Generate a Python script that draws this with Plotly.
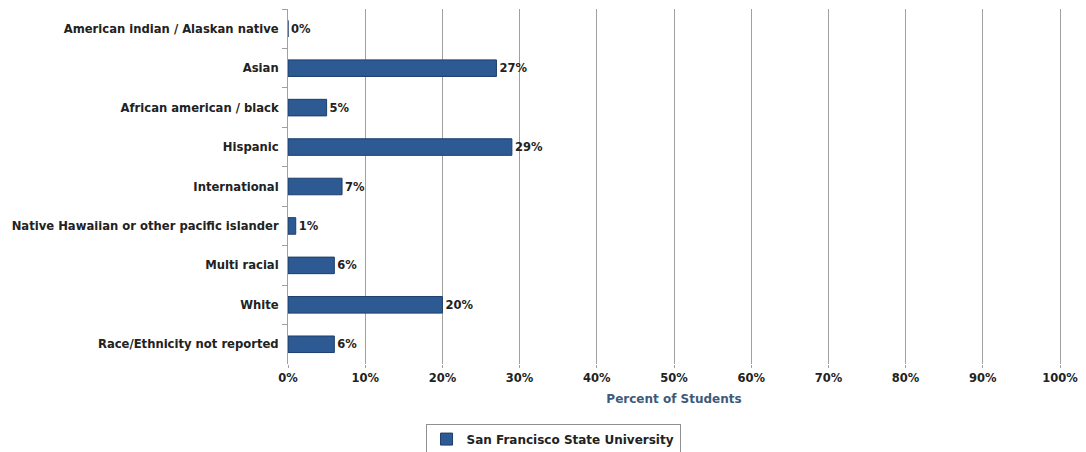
import plotly.graph_objects as go

categories = [
    "American indian / Alaskan native",
    "Asian",
    "African american / black",
    "Hispanic",
    "International",
    "Native Hawaiian or other pacific islander",
    "Multi racial",
    "White",
    "Race/Ethnicity not reported",
]
values = [0, 27, 5, 29, 7, 1, 6, 20, 6]
series_name = "San Francisco State University"
tick_vals = [0, 10, 20, 30, 40, 50, 60, 70, 80, 90, 100]
tick_text = ["0%", "10%", "20%", "30%", "40%", "50%", "60%", "70%", "80%", "90%", "100%"]

FONT = "DejaVu Sans"

fig = go.Figure()
fig.add_trace(go.Bar(
    y=categories,
    x=values,
    orientation="h",
    name=series_name,
    marker=dict(color="#2d5a93", line=dict(color="#1c3d6b", width=1)),
    width=0.42,
    text=[f"{v}%" for v in values],
    textposition="outside",
    cliponaxis=False,
    textfont=dict(family=FONT, size=11.5, color="#222222", weight="bold"),
    showlegend=True,
))

fig.update_layout(
    width=1078,
    height=444,
    margin=dict(l=280, r=26, t=1, b=88),
    paper_bgcolor="white",
    plot_bgcolor="white",
    font=dict(family=FONT, size=11.5, color="#222222", weight="bold"),
    xaxis=dict(
        range=[0, 100],
        tickvals=tick_vals,
        ticktext=tick_text,
        showgrid=True,
        gridcolor="#a0a0a0",
        gridwidth=1,
        zeroline=False,
        showline=False,
        ticks="outside",
        ticklen=3,
        tickcolor="#a0a0a0",
        tickfont=dict(family=FONT, size=11.5, color="#222222", weight="bold"),
        title=dict(text="Percent of Students", standoff=10,
                   font=dict(family=FONT, size=12, color="#3e5a7a", weight="bold")),
        fixedrange=True,
    ),
    yaxis=dict(
        autorange="reversed",
        showgrid=False,
        showline=True,
        mirror=True,
        linecolor="#a0a0a0",
        linewidth=1,
        ticks="outside",
        tickson="boundaries",
        ticklen=5,
        tickcolor="#a0a0a0",
        tickfont=dict(family=FONT, size=11.6, color="#222222", weight="bold"),
        ticklabelstandoff=6,
        fixedrange=True,
    ),
    legend=dict(
        orientation="h",
        xref="container",
        x=0.5056,
        xanchor="center",
        yref="container",
        y=0.064,
        yanchor="top",
        bordercolor="#909090",
        borderwidth=1,
        font=dict(family=FONT, size=12, color="#222222", weight="bold"),
    ),
)

fig.write_html("out.html")
